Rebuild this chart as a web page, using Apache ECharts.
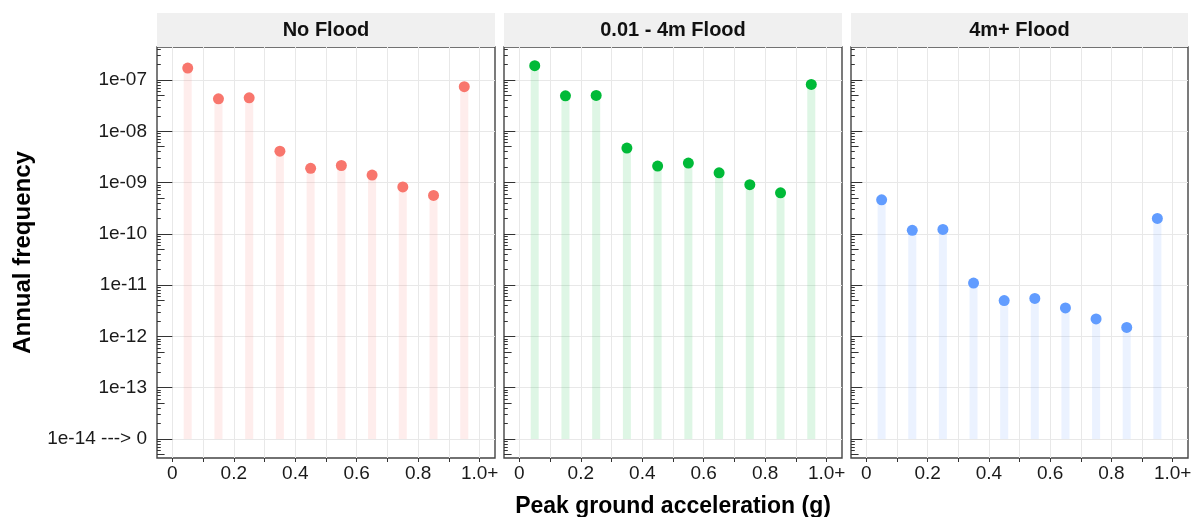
<!DOCTYPE html>
<html><head><meta charset="utf-8">
<script src="https://cdn.jsdelivr.net/npm/echarts@6/dist/echarts.min.js"></script>
<style>html,body{margin:0;padding:0;background:#fff}#c{width:1196px;height:517px}</style>
</head><body><div id="c"></div>
<script>
// ---------- data ----------
const panels = ['No Flood', '0.01 - 4m Flood', '4m+ Flood'];
const pgaBins = [0.05, 0.15, 0.25, 0.35, 0.45, 0.55, 0.65, 0.75, 0.85, 0.95];
const noFlood    = [1.71e-7, 4.3e-8, 4.5e-8, 4.1e-9, 1.9e-9, 2.15e-9, 1.4e-9, 8.2e-10, 5.6e-10, 7.4e-8];
const flood0to4  = [1.9e-7, 4.9e-8, 5.0e-8, 4.7e-9, 2.1e-9, 2.4e-9, 1.55e-9, 9.1e-10, 6.3e-10, 8.2e-8];
const flood4plus = [4.6e-10, 1.17e-10, 1.22e-10, 1.1e-11, 5.0e-12, 5.5e-12, 3.6e-12, 2.2e-12, 1.5e-12, 2.0e-10];
const panelValues = [noFlood, flood0to4, flood4plus];
const zeroLevel = 1e-14;   // "1e-14 ---> 0"
const colors = ['#F8766D', '#00BA38', '#619CFF'];

const xTickValues  = [0, 0.1, 0.2, 0.3, 0.4, 0.5, 0.6, 0.7, 0.8, 0.9, 1.0];
const xLabelValues = [0, 0.2, 0.4, 0.6, 0.8, 1.0];
const xTickLabels  = ['0', '0.2', '0.4', '0.6', '0.8', '1.0+'];
const yTickValues  = [1e-14, 1e-13, 1e-12, 1e-11, 1e-10, 1e-9, 1e-8, 1e-7];
const yTickLabels  = ['1e-14 ---> 0', '1e-13', '1e-12', '1e-11', '1e-10', '1e-09', '1e-08', '1e-07'];
const logDecades   = [1e-15, 1e-14, 1e-13, 1e-12, 1e-11, 1e-10, 1e-9, 1e-8, 1e-7];
const midMultiplier = [5];
const minorMultipliers = [2, 3, 4, 6, 7, 8, 9];

// ---------- layout ----------
const FONT = '"Liberation Sans", Arial, sans-serif';
const yMin = Math.pow(10, -14.37), yMax = Math.pow(10, -6.357);
const xMin = -0.05, xMax = 1.05;
const gridLefts = [157, 504, 851], gridWidths = [338, 338, 337];
const gridTop = 47, gridHeight = 411, stripTop = 13, stripH = 34;

const midTicks = [], minorTicks = [];
logDecades.forEach(d => {
  midMultiplier.forEach(m => midTicks.push(m * d));
  minorMultipliers.forEach(m => minorTicks.push(m * d));
});

function yLabel(v) {
  const e = Math.round(Math.log10(v));
  const i = yTickValues.findIndex(t => Math.round(Math.log10(t)) === e);
  return i >= 0 ? yTickLabels[i] : '';
}
function xLabel(v) {
  const i = xLabelValues.findIndex(t => Math.abs(t - v) < 1e-9);
  return i >= 0 ? xTickLabels[i] : '';
}

const grids = [], xAxes = [], yAxes = [], series = [], graphics = [];
panels.forEach((p, i) => {
  grids.push({left: gridLefts[i], top: gridTop, width: gridWidths[i], height: gridHeight,
    show: true, borderColor: '#444', borderWidth: 1.4, containLabel: false, outerBoundsMode: 'none'});
  xAxes.push({type: 'value', gridIndex: i, min: xMin, max: xMax,
    axisLine: {show: false},
    axisTick: {customValues: xTickValues, length: 4, lineStyle: {color: '#333'}},
    axisLabel: {customValues: xLabelValues, formatter: xLabel, fontSize: 19, color: '#1a1a1a', margin: 6, fontFamily: FONT},
    splitLine: {show: true, lineStyle: {color: '#e8e8e8', width: 1}},
    name: i === 1 ? 'Peak ground acceleration (g)' : '', nameLocation: 'middle', nameGap: 37,
    nameTextStyle: {fontSize: 23, fontWeight: 'bold', color: '#000', fontFamily: FONT}
  });
  graphics.push({type: 'rect', left: gridLefts[i], top: stripTop, z: 0,
    shape: {width: gridWidths[i], height: stripH}, style: {fill: '#f0f0f0'}});
  graphics.push({type: 'text', x: gridLefts[i] + gridWidths[i] / 2, y: stripTop + stripH / 2, z: 1,
    style: {text: p, font: 'bold 20px ' + FONT, fill: '#111', align: 'center', verticalAlign: 'middle',
      textAlign: 'center', textVerticalAlign: 'middle'}});
});
// main y axes
panels.forEach((p, i) => {
  yAxes.push({type: 'log', logBase: 10, gridIndex: i, position: 'left', min: yMin, max: yMax,
    axisLine: {show: false},
    axisTick: {show: i === 0, customValues: yTickValues, length: 5, lineStyle: {color: '#333'}},
    axisLabel: {show: i === 0, customValues: yTickValues, formatter: yLabel, fontSize: 19, color: '#1a1a1a', margin: 10, fontFamily: FONT},
    splitLine: {show: true, lineStyle: {color: '#e8e8e8', width: 1}},
    minorTick: {show: false}, minorSplitLine: {show: false},
    name: i === 0 ? 'Annual frequency' : '', nameLocation: 'middle', nameGap: 122,
    nameTextStyle: {fontSize: 24, fontWeight: 'bold', color: '#000', fontFamily: FONT}
  });
});
// log tick overlays (inside)
[[yTickValues, 11.3], [midTicks, 7.6], [minorTicks, 3.8]].forEach(([vals, len]) => {
  panels.forEach((p, i) => {
    yAxes.push({type: 'log', logBase: 10, gridIndex: i, position: 'left', min: yMin, max: yMax,
      axisLine: {show: false}, axisLabel: {show: false}, splitLine: {show: false},
      axisTick: {show: true, inside: true, customValues: vals, length: len, lineStyle: {color: '#333', width: 1}}
    });
  });
});

panels.forEach((p, i) => {
  const data = pgaBins.map((x, j) => [x, panelValues[i][j]]);
  const col = colors[i];
  series.push({type: 'custom', xAxisIndex: i, yAxisIndex: i, z: 2, data: data,
    renderItem: function (params, api) {
      const top = api.coord([api.value(0), api.value(1)]);
      const base = api.coord([api.value(0), zeroLevel]);
      const w = 8;
      return {type: 'rect', shape: {x: top[0] - w / 2, y: top[1], width: w, height: base[1] - top[1]},
        style: {fill: col, opacity: 0.13}};
    }
  });
  series.push({type: 'scatter', xAxisIndex: i, yAxisIndex: i, z: 3, data: data,
    symbolSize: 11, itemStyle: {color: col, opacity: 1}});
});

const chart = echarts.init(document.getElementById('c'), null, {renderer: 'canvas'});
chart.setOption({
  animation: false,
  backgroundColor: '#fff',
  textStyle: {fontFamily: FONT},
  grid: grids, xAxis: xAxes, yAxis: yAxes, series: series, graphic: graphics
});
</script></body></html>
